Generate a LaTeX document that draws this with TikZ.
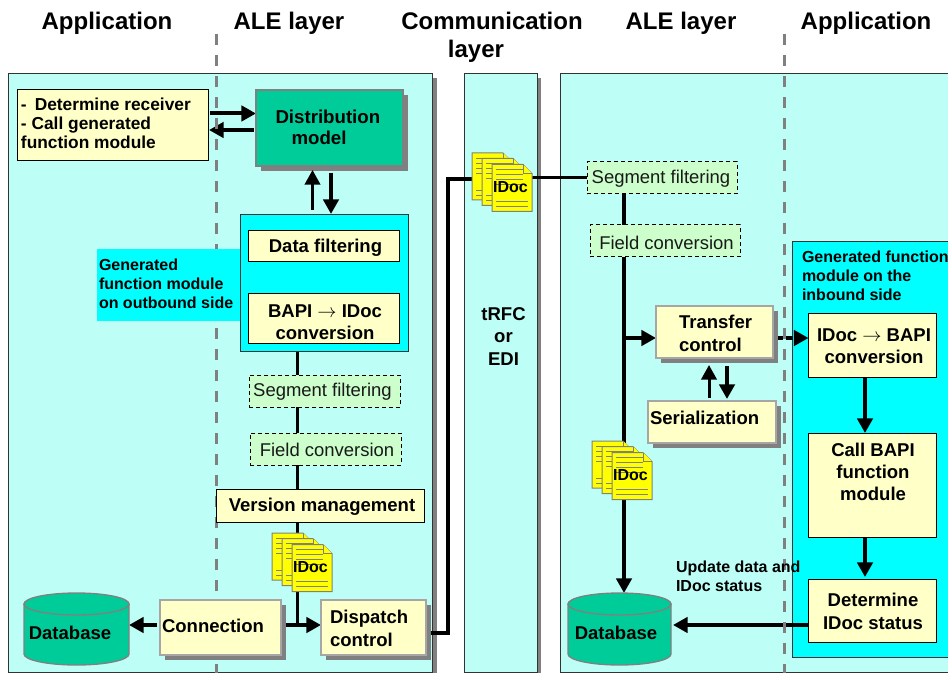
\documentclass[tikz,border=0pt]{standalone}
\usepackage{fontspec}
\setmainfont{Liberation Sans}
\usetikzlibrary{arrows.meta,shadows,calc}
\definecolor{panelc}{HTML}{BDFFF6}
\definecolor{cyanc}{HTML}{00FFFF}
\definecolor{creamc}{HTML}{FFFFC8}
\definecolor{greenc}{HTML}{00CC99}
\definecolor{filterc}{HTML}{CCFFCC}
\definecolor{shadec}{HTML}{808080}
\definecolor{docc}{HTML}{FFFF00}
\pgfdeclarelayer{panel}
\pgfdeclarelayer{cyans}
\pgfdeclarelayer{conn}
\pgfdeclarelayer{dashes}
\pgfsetlayers{panel,cyans,conn,dashes,main}
\tikzset{
  base/.style={inner sep=0pt,outer sep=0pt,rectangle},
  shad/.style={drop shadow={shadow xshift=3.75pt,shadow yshift=-3.75pt,fill=shadec,opacity=1}},
  panelbox/.style={base,fill=panelc,draw=black!80,line width=0.75pt},
  cyanbox/.style={base,fill=cyanc,draw=black!80,line width=0.75pt},
  plainbox/.style={base,fill=creamc,draw=black,line width=0.75pt},
  softbox/.style={base,fill=creamc,draw=shadec!70,line width=1pt,shad},
  greenbox/.style={base,fill=greenc,draw=shadec,line width=0.9pt,shad},
  filterbox/.style={base,fill=filterc,draw=black,line width=0.75pt,dash pattern=on 3pt off 2.25pt},
  hidden/.style={base},
  tb/.style={inner sep=0pt,outer sep=0pt,font=\bfseries\fontsize{13.9}{16.7}\selectfont,align=center},
  tl/.style={tb,align=left},
  tn/.style={inner sep=0pt,outer sep=0pt,font=\fontsize{13.85}{17}\selectfont,align=center,text=black!90},
  ts/.style={inner sep=0pt,outer sep=0pt,font=\bfseries\fontsize{12}{14.25}\selectfont,align=left,anchor=west},
  title/.style={inner sep=0pt,outer sep=0pt,anchor=base,font=\bfseries\fontsize{18}{21}\selectfont},
  arr/.style={line width=3pt,-{Triangle[length=11pt,width=11.5pt]}},
  arrthin/.style={line width=2.25pt,-{Triangle[length=11pt,width=11.5pt]}},
  wire/.style={line width=2.25pt},
  wirefat/.style={line width=3pt},
  guide/.style={draw=shadec,line width=2.25pt,dash pattern=on 8.25pt off 7.5pt},
  pagec/.style={fill=docc,draw=shadec,line width=0.75pt},
  pageline/.style={draw=shadec,line width=0.6pt}
}
\newcommand{\bx}[6]{\node[#1,minimum width={(#5-#3)*0.75pt},minimum height={(#6-#4)*0.75pt}] (#2) at ({(#3+#5)/2},{(#4+#6)/2}) {};}
\newcommand{\onepage}[2]{%
  \path[pagec] (#1,#2) -- ++(31,0) -- ++(9,9) -- ++(0,38) -- ++(-40,0) -- cycle;
  \path[pagec] (#1+31,#2) -- ++(0,9) -- ++(9,0);
  \foreach \d in {5,10,15,20}{\path[pageline] (#1+4,#2+\d) -- ++(27,0);}
  \path[pageline] (#1+4,#2+37) -- ++(32,0);
  \path[pageline] (#1+4,#2+42) -- ++(32,0);
}
\newcommand{\docs}[3]{%
  \onepage{#2}{#3}
  \onepage{#2+10}{#3+5.5}
  \onepage{#2+20}{#3+11.5}
  \node[hidden,minimum width=45pt,minimum height=44pt] (#1) at (#2+30,#3+29.5) {};
  \node[tb,font=\bfseries\fontsize{12}{14}\selectfont] (#1t) at (#2+38.5,#3+34) {IDoc};
}
\newcommand{\dbase}[5]{% name x1 y1 x2 y2
  \path[fill=greenc,draw=shadec,line width=1pt] (#2,#3+11) -- (#4,#3+11) -- (#4,#5-11)
     arc[start angle=0,end angle=180,x radius={(#4-#2)/2},y radius=11] -- cycle;
  \path[fill=greenc,draw=shadec,line width=1pt] ({(#2+#4)/2},#3+11) ellipse [x radius={(#4-#2)/2},y radius=11];
  \bx{hidden}{#1}{#2}{#3}{#4}{#5}
}
\begin{document}
\begin{tikzpicture}[x=0.75pt,y=-0.75pt]
\useasboundingbox (0,0) rectangle (948,673);
\clip (0,0) rectangle (948,673);

% titles
\node[title] (t1) at (107,30) {Application};
\node[title] (t2) at (289,30) {ALE layer};
\node[title] (t3) at (492,30) {Communication};
\node[title] (t4) at (476,58) {layer};
\node[title] (t5) at (681,30) {ALE layer};
\node[title] (t6) at (866,30) {Application};

% panels
\begin{pgfonlayer}{panel}
  \fill[white] (0,0) rectangle (948,673);
  \fill[shadec] (13,78) rectangle (436.5,673);
  \fill[shadec] (468,78) rectangle (541,673);
  \bx{panelbox}{pl}{8.5}{74}{432.5}{672}
  \bx{panelbox}{pm}{464}{74}{537}{672}
  \bx{panelbox}{pr}{560}{74}{970}{672}
\end{pgfonlayer}
\begin{pgfonlayer}{cyans}
  \bx{cyanbox}{geni}{792}{242}{970}{657}
\end{pgfonlayer}
\begin{pgfonlayer}{dashes}
  \path[guide] (216,34) -- (216,673);
  \path[guide] (784,34) -- (784,673);
\end{pgfonlayer}

% left side boxes
\bx{plainbox}{recv}{17}{90}{208}{161}
\node[tl,font=\bfseries\fontsize{13}{14.25}\selectfont,anchor=west] (recvt) at (21,123.5) {-\hspace{6pt}Determine receiver\\- Call generated\\function module};
\bx{greenbox}{dist}{256}{90}{403}{166}
\node[tl,anchor=west,font=\bfseries\fontsize{14}{16}\selectfont] (distt) at (275.5,127.5) {Distribution\\\hspace{12pt}model};

\bx{cyanbox}{gen}{240}{215}{408}{351}
\node[base,fill=cyanc,minimum width=107.25pt,minimum height=54pt] (genl) at (168.5,285) {};
\node[ts] (genlt) at (99,284) {Generated\\function module\\on outbound side};
\bx{plainbox}{filt}{248}{231}{399}{262}
\node[tb] (filtt) at (325.5,247.5) {Data filtering};
\bx{plainbox}{conv}{248}{294}{399}{343}
\node[tb] (convt) at (325,322.5) {BAPI $\rightarrow$ IDoc\\conversion};

\bx{filterbox}{segl}{249}{375}{400}{407}
\node[tn] (seglt) at (322.5,392) {Segment filtering};
\bx{filterbox}{fldl}{250}{433}{401}{465}
\node[tn] (fldlt) at (327,449.5) {Field conversion};
\bx{plainbox}{ver}{216.5}{489}{424.5}{522}
\node[tb] (vert) at (322,507) {Version management};
\docs{docl}{272}{533}
\bx{softbox}{cnt}{160}{600}{281}{655}
\node[tb] (cntt) at (213,626) {Connection};
\bx{softbox}{disp}{321}{600}{426}{655}
\node[tl,anchor=west] (dispt) at (330,628.5) {Dispatch\\control};
\dbase{dbl}{24}{593}{129}{665}
\node[tb] (dblt) at (70,633) {Database};

% middle
\node[tb] (rfc) at (503.5,336.5) {tRFC\\or\\EDI};
\docs{docm}{472}{153}

% right side
\bx{filterbox}{segr}{587}{162}{737}{194}
\node[tn] (segrt) at (661,179) {Segment filtering};
\bx{filterbox}{fldr}{590}{225}{740}{257}
\node[tn] (fldrt) at (666.5,242.5) {Field conversion};
\bx{softbox}{trans}{656}{306}{773}{358}
\node[tl,anchor=west] (transt) at (679,333.5) {Transfer\\control};
\bx{softbox}{ser}{648}{401}{776}{443}
\node[tb,anchor=west] (sert) at (650,418) {Serialization};
\node[ts] (genit) at (802,276) {Generated function\\module on the\\inbound side};
\bx{plainbox}{ib}{808.5}{313.5}{936}{377}
\node[tb] (ibt) at (874,346.5) {IDoc $\rightarrow$ BAPI\\conversion};
\bx{plainbox}{call}{808}{433}{936}{537}
\node[tb] (callt) at (873,472) {Call BAPI\\function\\module};
\bx{plainbox}{det}{808}{579}{936}{642}
\node[tb] (dett) at (873,611.5) {Determine\\IDoc status};
\docs{docr}{592}{441}
\dbase{dbr}{568}{593}{671}{665}
\node[tb] (dbrt) at (616,633) {Database};
\node[ts] (upd) at (676,576.5) {Update data and\\IDoc status};

% connector helper coordinates
\coordinate (a1) at (232,113.5);
\coordinate (a2) at (232,130);
\coordinate (a3) at (312.5,190);
\coordinate (a4) at (331,190);
\coordinate (sl) at (297,500);
\coordinate (sr) at (624,300);
\coordinate (y1) at (300,625);
\coordinate (y2) at (448,633);
\coordinate (y3) at (448,179);
\coordinate (y4) at (700,338);
\coordinate (a5) at (709,380);
\coordinate (a6) at (727,380);
\coordinate (a7) at (865,400);
\coordinate (y5) at (740,625);

\begin{pgfonlayer}{conn}
  \draw[arr] ([xshift=1.5pt]recv.east |- a1) -- (dist.west |- a1);
  \draw[arr] ([xshift=-1.5pt]dist.west |- a2) -- ([xshift=0.75pt]recv.east |- a2);
  \draw[wire] (gen.south -| sl) -- (sl |- y1);
  \draw[arr] ([xshift=-2pt]cnt.west |- y1) -- ([xshift=0pt]dbl.east |- y1);
  \draw[arr] ([xshift=3.75pt]cnt.east |- y1) -- (disp.west |- y1);
  \draw[wirefat] (disp.east |- y2) -- (y2) -- (y3) -- (docm.west |- y3);
  \draw[wire] (docm.east |- segr) -- (segr.west);
  \draw[wirefat] (segr.south -| sr) -- (fldr.north -| sr);
  \draw[arr] (fldr.south -| sr) -- (sr |- dbr.north);
  \draw[arr] (sr |- y4) -- (trans.west |- y4);
  \draw[arr,dash pattern=on 5pt off 2.5pt] ([xshift=2.5pt]trans.east |- y4) -- (ib.west |- y4);
  \draw[arr] (ib.south -| a7) -- (call.north -| a7);
  \draw[arr] (call.south -| a7) -- ([yshift=1.5pt]det.north -| a7);
  \draw[arr] (det.west |- y5) -- ([xshift=1.5pt]dbr.east |- y5);
\end{pgfonlayer}
% arrows that touch a shadow are drawn over it
\draw[arrthin] ([yshift=3.75pt]gen.north -| a3) -- ([yshift=-3pt]dist.south -| a3);
\draw[arr] ([yshift=-5.25pt]dist.south -| a4) -- ([yshift=0.75pt]gen.north -| a4);
\draw[arrthin] ([yshift=2.25pt]ser.north -| a5) -- ([yshift=-5.25pt]trans.south -| a5);
\draw[arr] ([yshift=-6pt]trans.south -| a6) -- ([yshift=1.5pt]ser.north -| a6);
\end{tikzpicture}
\end{document}
